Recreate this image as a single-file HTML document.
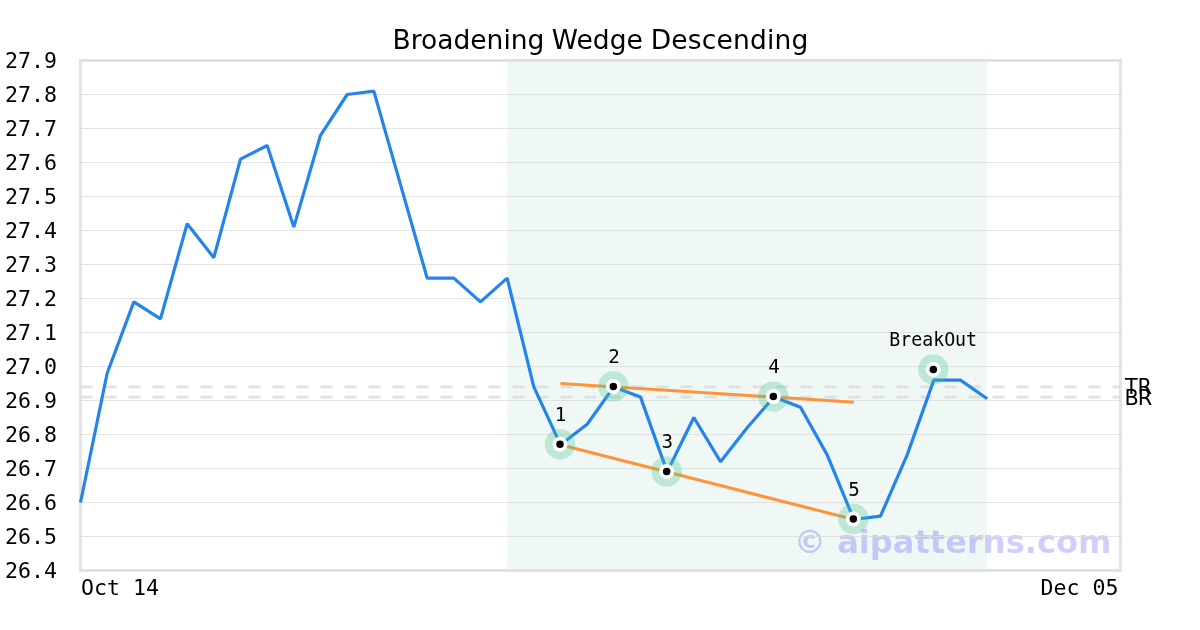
<!DOCTYPE html>
<html lang="en">
<head>
<meta charset="utf-8">
<title>Broadening Wedge Descending</title>
<style>
html,body{margin:0;padding:0;background:#fff;}
body{width:1200px;height:630px;overflow:hidden;}
svg{display:block;}
.mono{font-family:"DejaVu Sans Mono", "Liberation Mono", monospace;}
.sans{font-family:"DejaVu Sans", "Liberation Sans", sans-serif;}
</style>
</head>
<body>
<svg width="1200" height="630" viewBox="0 0 1200 630">
<rect x="0" y="0" width="1200" height="630" fill="#ffffff"/>
<rect x="506.92" y="60.5" width="480.00" height="510.0" fill="#eff8f4"/>
<text class="sans" x="1111.5" y="553" text-anchor="end" font-size="32.12" font-weight="bold" fill="#0000ff" fill-opacity="0.19">© aipatterns.com</text>
<rect x="80.5" y="60.5" width="1040.0" height="510.0" fill="none" stroke="#e4e4e4" stroke-width="3"/>
<g stroke="#dbdbdb" stroke-opacity="0.75" stroke-width="1" shape-rendering="crispEdges">
<line x1="79.0" y1="60.5" x2="1122.0" y2="60.5"/>
<line x1="79.0" y1="94.5" x2="1122.0" y2="94.5"/>
<line x1="79.0" y1="128.5" x2="1122.0" y2="128.5"/>
<line x1="79.0" y1="162.5" x2="1122.0" y2="162.5"/>
<line x1="79.0" y1="196.5" x2="1122.0" y2="196.5"/>
<line x1="79.0" y1="230.5" x2="1122.0" y2="230.5"/>
<line x1="79.0" y1="264.5" x2="1122.0" y2="264.5"/>
<line x1="79.0" y1="298.5" x2="1122.0" y2="298.5"/>
<line x1="79.0" y1="332.5" x2="1122.0" y2="332.5"/>
<line x1="79.0" y1="366.5" x2="1122.0" y2="366.5"/>
<line x1="79.0" y1="400.5" x2="1122.0" y2="400.5"/>
<line x1="79.0" y1="434.5" x2="1122.0" y2="434.5"/>
<line x1="79.0" y1="468.5" x2="1122.0" y2="468.5"/>
<line x1="79.0" y1="502.5" x2="1122.0" y2="502.5"/>
<line x1="79.0" y1="536.5" x2="1122.0" y2="536.5"/>
<line x1="79.0" y1="570.5" x2="1122.0" y2="570.5"/>
</g>
<g stroke="#d8d8d8" stroke-opacity="0.75" stroke-width="2.78" stroke-dasharray="12 12" fill="none" transform="translate(0,0.5)">
<line x1="80.5" y1="386.40" x2="1120.0" y2="386.40"/>
<line x1="80.5" y1="396.60" x2="1120.0" y2="396.60"/>
</g>
<g stroke="#fd943c" stroke-width="3.05" fill="none" stroke-linecap="butt" transform="translate(0.5,0.5)">
<line x1="560.00" y1="383.00" x2="853.33" y2="401.70"/>
<line x1="560.00" y1="444.20" x2="853.33" y2="519.00"/>
</g>
<polyline points="80.50,502.50 107.17,373.30 133.83,301.90 160.50,318.90 187.17,223.70 213.83,257.70 240.50,159.10 267.17,145.50 293.83,227.10 320.50,135.30 347.17,94.50 373.83,91.10 400.50,184.60 427.17,278.10 453.83,278.10 480.50,301.90 507.17,278.10 533.83,386.90 560.50,444.70 587.17,424.30 613.83,386.90 640.50,397.10 667.17,471.90 693.83,417.50 720.50,461.70 747.17,427.70 773.83,397.10 800.50,407.30 827.17,454.90 853.83,519.50 880.50,516.10 907.17,454.90 933.83,380.10 960.50,380.10 987.17,398.80" fill="none" stroke="#2584ea" stroke-width="3.2" stroke-linejoin="bevel" stroke-linecap="butt"/>
<circle cx="560.00" cy="444.20" r="15.2" fill="#45c490" fill-opacity="0.30"/>
<circle cx="560.00" cy="444.20" r="7.5" fill="#ffffff"/>
<circle cx="560.00" cy="444.20" r="3.75" fill="#000000"/>
<circle cx="613.33" cy="386.40" r="15.2" fill="#45c490" fill-opacity="0.30"/>
<circle cx="613.33" cy="386.40" r="7.5" fill="#ffffff"/>
<circle cx="613.33" cy="386.40" r="3.75" fill="#000000"/>
<circle cx="666.67" cy="471.40" r="15.2" fill="#45c490" fill-opacity="0.30"/>
<circle cx="666.67" cy="471.40" r="7.5" fill="#ffffff"/>
<circle cx="666.67" cy="471.40" r="3.75" fill="#000000"/>
<circle cx="773.33" cy="396.60" r="15.2" fill="#45c490" fill-opacity="0.30"/>
<circle cx="773.33" cy="396.60" r="7.5" fill="#ffffff"/>
<circle cx="773.33" cy="396.60" r="3.75" fill="#000000"/>
<circle cx="853.33" cy="519.00" r="15.2" fill="#45c490" fill-opacity="0.30"/>
<circle cx="853.33" cy="519.00" r="7.5" fill="#ffffff"/>
<circle cx="853.33" cy="519.00" r="3.75" fill="#000000"/>
<circle cx="933.33" cy="369.40" r="15.2" fill="#45c490" fill-opacity="0.30"/>
<circle cx="933.33" cy="369.40" r="7.5" fill="#ffffff"/>
<circle cx="933.33" cy="369.40" r="3.75" fill="#000000"/>
<text class="mono" transform="translate(560.60,421) scale(1.05,1.06)" x="0" y="0" text-anchor="middle" font-size="18.27" fill="#000">1</text>
<text class="mono" transform="translate(613.93,363) scale(1.05,1.06)" x="0" y="0" text-anchor="middle" font-size="18.27" fill="#000">2</text>
<text class="mono" transform="translate(667.27,448) scale(1.05,1.06)" x="0" y="0" text-anchor="middle" font-size="18.27" fill="#000">3</text>
<text class="mono" transform="translate(773.93,373) scale(1.05,1.06)" x="0" y="0" text-anchor="middle" font-size="18.27" fill="#000">4</text>
<text class="mono" transform="translate(853.93,496) scale(1.05,1.06)" x="0" y="0" text-anchor="middle" font-size="18.27" fill="#000">5</text>
<text class="mono" transform="translate(933.13,346) scale(1,1.06)" x="0" y="0" text-anchor="middle" font-size="18.27" fill="#000">BreakOut</text>
<text class="mono" x="57" y="67.8" text-anchor="end" font-size="21.6" fill="#000">27.9</text>
<text class="mono" x="57" y="101.8" text-anchor="end" font-size="21.6" fill="#000">27.8</text>
<text class="mono" x="57" y="135.8" text-anchor="end" font-size="21.6" fill="#000">27.7</text>
<text class="mono" x="57" y="169.8" text-anchor="end" font-size="21.6" fill="#000">27.6</text>
<text class="mono" x="57" y="203.8" text-anchor="end" font-size="21.6" fill="#000">27.5</text>
<text class="mono" x="57" y="237.8" text-anchor="end" font-size="21.6" fill="#000">27.4</text>
<text class="mono" x="57" y="271.8" text-anchor="end" font-size="21.6" fill="#000">27.3</text>
<text class="mono" x="57" y="305.8" text-anchor="end" font-size="21.6" fill="#000">27.2</text>
<text class="mono" x="57" y="339.8" text-anchor="end" font-size="21.6" fill="#000">27.1</text>
<text class="mono" x="57" y="373.8" text-anchor="end" font-size="21.6" fill="#000">27.0</text>
<text class="mono" x="57" y="407.8" text-anchor="end" font-size="21.6" fill="#000">26.9</text>
<text class="mono" x="57" y="441.8" text-anchor="end" font-size="21.6" fill="#000">26.8</text>
<text class="mono" x="57" y="475.8" text-anchor="end" font-size="21.6" fill="#000">26.7</text>
<text class="mono" x="57" y="509.8" text-anchor="end" font-size="21.6" fill="#000">26.6</text>
<text class="mono" x="57" y="543.8" text-anchor="end" font-size="21.6" fill="#000">26.5</text>
<text class="mono" x="57" y="577.8" text-anchor="end" font-size="21.6" fill="#000">26.4</text>
<text class="mono" x="80.9" y="595" text-anchor="start" font-size="21.6" fill="#000">Oct 14</text>
<text class="mono" x="1118.6" y="595" text-anchor="end" font-size="21.6" fill="#000">Dec 05</text>
<text class="sans" x="1125" y="394.3" font-size="20.83" fill="#000">T<tspan dx="-0.3">R</tspan></text>
<text class="sans" x="1124.5" y="404.7" font-size="20.83" fill="#000">B<tspan dx="-1.1">R</tspan></text>
<text class="sans" x="600.5" y="49" text-anchor="middle" font-size="26.53" fill="#000">Broadening <tspan dx="-1">Wedge</tspan> <tspan dx="-0.5" letter-spacing="0.17">Descending</tspan></text>
</svg>
</body>
</html>
